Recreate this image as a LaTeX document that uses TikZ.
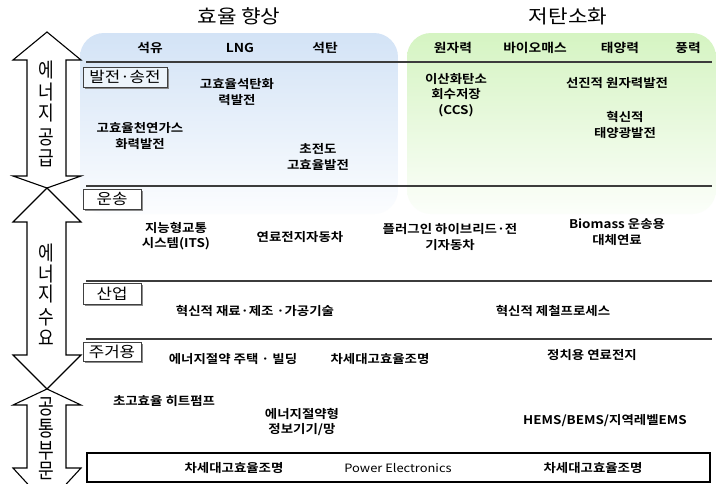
\documentclass[tikz,border=0pt]{standalone}
\usepackage{fontspec}
\setmainfont{Noto Sans CJK KR}[BoldFont={Noto Sans CJK KR Bold}, FakeStretch=1.12]
\usetikzlibrary{shadows}
\definecolor{bluetop}{HTML}{D3E3F6}
\definecolor{greentop}{HTML}{D5F4C2}
\definecolor{sepcol}{HTML}{3C3C3C}
\tikzset{
  head/.style={font=\fontsize{19}{21}\selectfont},
  src/.style={font=\bfseries\fontsize{12.3}{14}\selectfont},
  txt/.style={font=\bfseries\fontsize{12}{15.5}\selectfont, align=center, inner sep=0pt},
  catbox/.style={draw=black!75, line width=0.9pt, fill=white, inner sep=0pt,
     font=\fontsize{15}{16}\selectfont,
     drop shadow={shadow xshift=1.6pt, shadow yshift=-1.6pt, fill=black!45, opacity=1}},
  sepline/.style={draw=sepcol, line width=1.5pt},
  bigarrow/.style={draw=black, line width=1.1pt, fill=white, line join=miter},
  arrtxt/.style={font=\fontsize{16}{16}\selectfont, inner sep=0pt},
}
\newcommand{\tallch}[1]{\scalebox{0.95}[1.25]{#1}}
\begin{document}
\begin{tikzpicture}[x=1pt,y=-1pt]
\useasboundingbox (0,0) rectangle (716,483);
\clip (0,0) rectangle (716,483);
\fill[white] (0,0) rectangle (716,483);

% regions
\shade[top color=bluetop, bottom color=bluetop!8!white, rounded corners=24pt] (80,33) rectangle (398,214);
\shade[top color=greentop, bottom color=greentop!8!white, rounded corners=24pt] (407,33) rectangle (716,214);

% headers
\node[head] (h1) at (239,16) {효율 향상};
\node[head] (h2) at (568,16) {저탄소화};

% source labels
\node[src] (s1) at (150,48) {석유};
\node[src] (s2) at (240,48) {LNG};
\node[src] (s3) at (325,48) {석탄};
\node[src] (s4) at (453,48) {원자력};
\node[src] (s5) at (535,48) {바이오매스};
\node[src] (s6) at (620,48) {태양력};
\node[src] (s7) at (688,48) {풍력};

% separators
\draw[sepline] (86,62) -- (712,62);
\draw[sepline] (86,186) -- (712,186);
\draw[sepline] (86,281) -- (712,281);
\draw[sepline] (86,339) -- (712,339);

% category boxes
\node[catbox, minimum width=84pt, minimum height=20pt, fill=white!60!bluetop] (c1) at (125,77) {발전·송전};
\node[catbox, minimum width=58pt, minimum height=20pt] (c2) at (112,199) {운송};
\node[catbox, minimum width=58pt, minimum height=21pt] (c3) at (112,294) {산업};
\node[catbox, minimum width=58pt, minimum height=19pt] (c4) at (112,352) {주거용};

% power generation
\node[txt] (p1) at (237,92) {고효율석탄화\\력발전};
\node[txt] (p2) at (140,136) {고효율천연가스\\화력발전};
\node[txt] (p3) at (318,157) {초전도\\고효율발전};
\node[txt] (p4) at (456,95) {이산화탄소\\회수저장\\(CCS)};
\node[txt] (p5) at (617,83) {선진적 원자력발전};
\node[txt] (p6) at (625,125) {혁신적\\태양광발전};

% transport
\node[txt] (t1) at (176,236) {지능형교통\\시스템(ITS)};
\node[txt] (t2) at (300,237) {연료전지자동차};
\node[txt] (t3) at (450,237) {플러그인 하이브리드·전\\기자동차};
\node[txt] (t4) at (617,232) {Biomass 운송용\\대체연료};

% industry
\node[txt] (i1) at (255,311) {혁신적 재료·제조 ·가공기술};
\node[txt] (i2) at (553,311) {혁신적 제철프로세스};

% residential
\node[txt] (r1) at (233,359) {에너지절약 주택 · 빌딩};
\node[txt] (r2) at (380,359) {차세대고효율조명};
\node[txt] (r3) at (592,355) {정치용 연료전지};
\node[txt] (r4) at (164,401) {초고효율 히트펌프};
\node[txt] (r5) at (302,422) {에너지절약형\\정보기기/망};
\node[txt] (r6) at (605,421) {HEMS/BEMS/지역레벨EMS};

% bottom box
\node[draw=black, line width=1.3pt, minimum width=623pt, minimum height=29pt, inner sep=0pt,
      drop shadow={shadow xshift=1.2pt, shadow yshift=-1.2pt, fill=black!40, opacity=1}, fill=white] (bb) at (398.5,467.5) {};
\node[txt] (b1) at (234,468) {차세대고효율조명};
\node[txt, font=\fontsize{11.5}{14}\selectfont] (b2) at (398,468) {Power Electronics};
\node[txt] (b3) at (593,468) {차세대고효율조명};

% left arrows
\draw[bigarrow] (47,32) -- (81,60) -- (66,60) -- (66,176) -- (81,176) -- (47,188)
   -- (13,176) -- (27,176) -- (27,60) -- (13,60) -- cycle;
\draw[bigarrow] (47,188) -- (81,222) -- (66,222) -- (66,355) -- (81,355) -- (47,389)
   -- (13,355) -- (27,355) -- (27,222) -- (13,222) -- cycle;
\draw[bigarrow] (47,389) -- (81,405) -- (66,405) -- (66,468) -- (81,468) -- (47,505)
   -- (13,468) -- (27,468) -- (27,405) -- (13,405) -- cycle;

\node[arrtxt] (a1) at (46,70) {\tallch{에}};
\node[arrtxt] (a2) at (46,92) {\tallch{너}};
\node[arrtxt] (a3) at (46,113) {\tallch{지}};
\node[arrtxt] (a4) at (46,137) {\tallch{공}};
\node[arrtxt] (a5) at (46,158) {\tallch{급}};

\node[arrtxt] (d1) at (46,253) {\tallch{에}};
\node[arrtxt] (d2) at (46,274) {\tallch{너}};
\node[arrtxt] (d3) at (46,294) {\tallch{지}};
\node[arrtxt] (d4) at (46,317) {\tallch{수}};
\node[arrtxt] (d5) at (46,338) {\tallch{요}};

\node[arrtxt] (e1) at (46,407) {\scalebox{0.95}[1.35]{공}};
\node[arrtxt] (e2) at (46,429) {\scalebox{0.95}[1.35]{통}};
\node[arrtxt] (e3) at (46,451) {\scalebox{0.95}[1.35]{부}};
\node[arrtxt] (e4) at (46,471) {\scalebox{0.95}[1.3]{문}};
\end{tikzpicture}
\end{document}
